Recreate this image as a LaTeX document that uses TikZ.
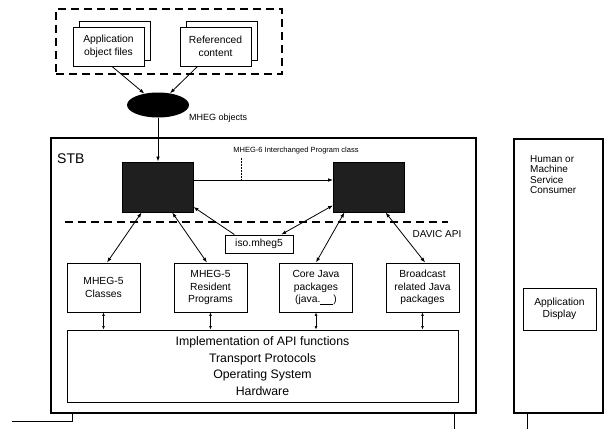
\documentclass[tikz,border=0pt]{standalone}
\usepackage{fontspec}
\setmainfont{Liberation Sans}
\usetikzlibrary{positioning,arrows.meta,shapes.geometric,shadows,calc}

\begin{document}
\begin{tikzpicture}[x=1pt, y=-1pt, >={Latex[length=5pt,width=3.6pt]},
  box/.style={draw, line width=0.9pt, fill=white, align=center, inner sep=1pt, font=\fontsize{10.3}{12.5}\selectfont},
  filebox/.style={box, minimum width=71pt, minimum height=39pt,
    copy shadow={shadow xshift=6pt, shadow yshift=6pt, draw, fill=white, line width=0.9pt}},
  pkg/.style={box, minimum width=73pt, minimum height=49pt},
  obj/.style={draw, line width=0.9pt, fill=black!88, minimum width=71pt, minimum height=50pt},
  frame/.style={draw, line width=1.6pt, inner sep=0pt},
  lbl/.style={font=\fontsize{9}{11}\selectfont, inner sep=0pt},
  link/.style={line width=0.8pt},
  small/.style={line width=0.6pt, {Latex[length=3.5pt,width=2.8pt]}-{Latex[length=3.5pt,width=2.8pt]}}]
\useasboundingbox (0,0) rectangle (607,428);

% source files
\node[draw, line width=2.2pt, dash pattern=on 8pt off 5pt, minimum width=226pt, minimum height=65pt] (src) at (169,41.5) {};
\node[filebox] (app) at (108.5,46.5) {Application\\object files};
\node[filebox] (ref) at (215.5,46.5) {Referenced\\content};
\node[ellipse, fill=black, minimum width=62pt, minimum height=25pt, inner sep=0pt] (mheg) at (158,105) {};
\node[lbl, anchor=west] (mhegl) at (189,118) {MHEG objects};
\draw[->, link] (app.280) -- (mheg);
\draw[->, link] (ref.228) -- (mheg);

% set-top box
\node[frame, minimum width=425pt, minimum height=275pt] (stb) at (263.5,275.5) {};
\node[anchor=west, inner sep=0pt, font=\fontsize{14}{16}\selectfont] (stbl) at (57,159) {STB};
\node[obj] (bb1) at (157.5,187) {};
\node[obj] (bb2) at (369,187) {};
\draw[->, link] (mheg.south) -- (mheg.south |- bb1.north);
\node[lbl, font=\fontsize{7.5}{9}\selectfont] (cls) at (296,151) {MHEG-6 Interchanged Program class};
\coordinate (tap) at (241,180);
\draw[->, link] (bb1.east |- tap) -- (bb2.west |- tap);
\draw[densely dotted, line width=0.5pt] (cls.south -| tap) ++(0,3) -- (tap);

% API
\coordinate (apiL) at (65,222);
\coordinate (apiR) at (448,222);
\draw[line width=2pt, dash pattern=on 8pt off 5pt] (apiL) -- (apiR);
\node[lbl, font=\fontsize{10}{12}\selectfont] (davic) at (437,234) {DAVIC API};
\node[box, minimum width=68pt, minimum height=18pt] (iso) at (259,244) {iso.mheg5};
\node[pkg] (c1) at (103.5,287.5) {MHEG-5\\Classes};
\node[pkg] (c2) at (210.5,287.5) {MHEG-5\\Resident\\Programs};
\node[pkg] (c3) at (316,287.5) {Core Java\\packages\\(java.\underline{\hspace{13pt}})};
\node[pkg] (c4) at (422.5,287.5) {Broadcast\\related Java\\packages};
\node[box, minimum width=391pt, minimum height=72pt, font=\fontsize{12.3}{16.5}\selectfont] (impl) at (262.5,366)
  {Implementation of API functions\\Transport Protocols\\Operating System\\Hardware};

\draw[<->, link] (c1.82) -- (bb1.238);
\draw[<->, link] (c2.98) -- (bb1.300);
\draw[->, link] (iso.159) -- (bb1.331);
\draw[<->, link] (iso.23) -- (bb2.207);
\draw[<->, link] (c3.north) -- (bb2.226);
\draw[<->, link] (c4.84) -- (bb2.303);
\foreach \n in {c1,c2,c3,c4}
  \draw[small] (\n.south) -- (\n.south |- impl.north);

% consumer
\node[frame, minimum width=89pt, minimum height=274pt] (hmsc) at (558.5,276) {};
\node[anchor=north west, align=left, inner sep=0pt, font=\fontsize{10}{10.5}\selectfont] (hmsct) at (530,155)
  {Human or\\Machine\\Service\\Consumer};
\node[box, minimum width=73pt, minimum height=42pt] (disp) at (559.5,309) {Application\\Display};

% cut edges
\coordinate (lft) at (12,421);
\draw[line width=0.6pt] (lft) -| ($(stb.south west)+(22,0)$);
\draw[line width=0.8pt] ($(stb.south east)+(-22,0)$) -- ++(0,15);
\draw[line width=0.8pt] ($(hmsc.south west)+(14,0)$) -- ++(0,15);
\end{tikzpicture}
\end{document}
